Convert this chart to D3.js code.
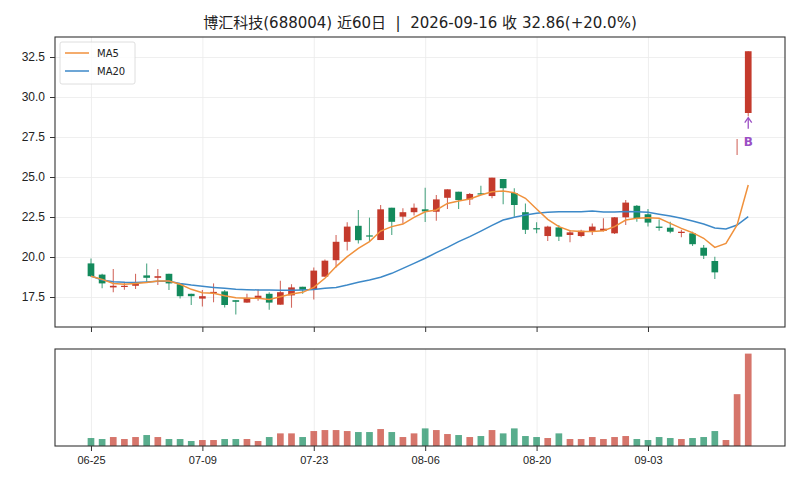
<!DOCTYPE html>
<html>
<head>
<meta charset="utf-8">
<script src="https://cdn.jsdelivr.net/npm/d3@7/dist/d3.min.js"></script>
<style>
  body { margin: 0; background: #fff; }
  svg { font-family: "DejaVu Sans", "Noto Sans CJK SC", sans-serif; }
  .grid line { stroke: #ebebeb; stroke-width: 0.8; }
  .grid path { display: none; }
  .axis path { display: none; }
  .axis line { stroke: #333; }
  .axis text { fill: #222; }
</style>
</head>
<body>
<svg id="chart" width="800" height="484"></svg>
<script>
// Trading days shown on the x axis
var dates = ["06-25","06-26","06-29","06-30","07-01","07-02","07-03","07-06","07-07","07-08",
             "07-09","07-10","07-13","07-14","07-15","07-16","07-17","07-20","07-21","07-22",
             "07-23","07-24","07-27","07-28","07-29","07-30","07-31","08-03","08-04","08-05",
             "08-06","08-07","08-10","08-11","08-12","08-13","08-14","08-17","08-18","08-19",
             "08-20","08-21","08-24","08-25","08-26","08-27","08-28","08-31","09-01","09-02",
             "09-03","09-04","09-07","09-08","09-09","09-10","09-11","09-14","09-15","09-16"];

// Daily prices
var openPrices = [19.6,18.9,18.1,18.15,18.2,18.85,18.7,18.95,18.3,17.7,
                  17.4,17.78,17.85,17.3,17.15,17.38,17.7,17.02,17.6,18.14,
                  18.0,18.77,19.8,20.95,21.95,21.35,21.06,23.08,22.52,22.8,
                  22.98,22.83,23.7,24.08,23.6,23.98,23.81,24.875,24.0,22.8,
                  21.8,21.31,21.85,21.375,21.31,21.625,21.63,21.48,22.48,23.2,
                  22.67,21.9,21.83,21.5,21.48,20.58,19.75,22.85,27.38,29.0];
var highPrices = [19.9,18.95,19.25,18.45,18.95,19.6,19.25,18.96,18.31,17.7,
                  17.94,18.35,17.94,17.3,17.7,17.98,17.8,18.52,18.3,18.14,
                  19.35,19.85,21.375,22.17,22.94,22.46,23.25,23.08,23.04,23.35,
                  24.33,23.875,24.23,24.08,24.0,24.46,24.96,24.875,24.29,23.35,
                  22.17,21.95,22.0,21.69,21.7,22.1,22.42,22.5,23.56,23.25,
                  23.0,22.35,22.2,21.7,21.58,20.75,20.02,22.85,27.38,32.86];
var lowPrices = [18.75,18.05,17.8,17.95,18.0,18.46,18.25,17.94,17.4,17.0,
                 16.9,17.17,16.85,16.4,17.14,17.27,16.7,17.02,16.83,17.7,
                 17.35,18.77,19.35,20.4,20.85,20.96,21.06,21.375,22.1,22.6,
                 22.19,22.27,23.0,23.0,23.25,23.9,23.67,23.29,22.52,21.44,
                 21.48,21.0,21.0,20.92,21.23,21.375,21.6,21.44,22.0,22.2,
                 21.9,21.64,21.48,21.23,20.69,19.875,18.625,22.85,26.38,28.8];
var closePrices = [18.8,18.35,18.2,18.2,18.35,18.7,18.8,18.35,17.55,17.55,
                   17.55,17.82,17.0,17.2,17.45,17.58,17.15,17.8,18.1,17.95,
                   19.15,19.77,20.95,21.9,21.05,21.3,22.98,22.2,22.8,23.08,
                   22.85,23.6,24.23,23.56,23.94,23.92,24.96,24.3,23.25,21.7,
                   21.73,21.9,21.27,21.54,21.64,21.9,21.77,22.48,23.4,22.42,
                   22.15,21.82,21.58,21.58,20.8,20.08,19.04,22.85,27.38,32.86];

// Moving averages as drawn
var ma5 = [18.8,18.6,18.35,18.3,18.35,18.4,18.5,18.5,18.3,17.98,
           17.77,17.73,17.58,17.46,17.42,17.42,17.35,17.52,17.69,17.79,
           18.1,18.67,19.4,20.02,20.54,20.96,21.62,21.9,22.06,22.48,
           22.83,22.94,23.35,23.5,23.62,23.87,24.08,24.12,24.02,23.67,
           23.0,22.35,21.9,21.64,21.6,21.6,21.64,21.9,22.31,22.42,
           22.46,22.42,22.1,21.79,21.52,21.17,20.6,20.85,22.0,24.5];
var ma20 = [18.81,18.56,18.46,18.42,18.4,18.44,18.48,18.48,18.35,18.25,
            18.17,18.1,18.04,17.98,17.96,17.94,17.94,17.92,17.92,17.94,
            17.97,18.04,18.1,18.25,18.42,18.56,18.73,18.98,19.29,19.6,
            19.92,20.27,20.6,20.96,21.27,21.62,21.98,22.31,22.48,22.62,
            22.73,22.79,22.83,22.83,22.83,22.87,22.81,22.81,22.85,22.83,
            22.79,22.67,22.56,22.42,22.25,22.06,21.81,21.75,22.0,22.52];

// Daily volume
var volumes = [96,84,108,84,108,132,108,84,84,60,
               72,72,84,84,84,60,108,152,152,108,
               180,192,192,180,168,168,204,168,108,152,
               212,192,144,132,108,120,192,152,212,120,
               108,96,152,84,84,108,84,108,120,84,
               72,108,96,84,96,108,180,72,624,1112];

var priceTicks = [17.5, 20.0, 22.5, 25.0, 27.5, 30.0, 32.5];
var dateTickIndex = [0, 10, 20, 30, 40, 50];
var signalIndex = 59;
var signalLabel = "B";

var titleText = "博汇科技(688004) 近60日  |  2026-09-16 收 32.86(+20.0%)";

// Layout
var left = 55, right = 785;
var mainTop = 37, mainBottom = 327;
var volTop = 349, volBottom = 446;

var upColor = "#c43a2c", downColor = "#138a5c";
var ma5Color = "#f0913c", ma20Color = "#3d89c8";

var svg = d3.select("#chart");

var data = dates.map(function(d, i) {
    return { i: i, date: d, open: openPrices[i], high: highPrices[i], low: lowPrices[i],
             close: closePrices[i], vol: volumes[i] };
});

// Scales
var xScale = d3.scaleLinear().domain([-3.23, 62.3]).range([left, right]);
var yScale = d3.scaleLinear().domain([15.625, 33.75]).range([mainBottom, mainTop]);
var vScale = d3.scaleLinear().domain([0, d3.max(volumes) * 1.05]).range([volBottom, volTop]);

var step = xScale(1) - xScale(0);
var bodyW = step * 0.6;

// Title
svg.append("text")
    .attr("x", (left + right) / 2)
    .attr("y", 28)
    .attr("text-anchor", "middle")
    .style("font-size", "15px")
    .style("white-space", "pre")
    .style("fill", "#222")
    .text(titleText);

// Grid lines for price panel
svg.append("g").attr("class", "grid")
    .attr("transform", "translate(" + left + ",0)")
    .call(d3.axisLeft(yScale).tickValues(priceTicks).tickSize(-(right - left)).tickFormat(""));
svg.append("g").attr("class", "grid")
    .attr("transform", "translate(0," + mainBottom + ")")
    .call(d3.axisBottom(xScale).tickValues(dateTickIndex).tickSize(-(mainBottom - mainTop)).tickFormat(""));

// Grid lines for volume panel
svg.append("g").attr("class", "grid")
    .attr("transform", "translate(0," + volBottom + ")")
    .call(d3.axisBottom(xScale).tickValues(dateTickIndex).tickSize(-(volBottom - volTop)).tickFormat(""));

// Candles
var candles = svg.append("g");
candles.selectAll("line.wick").data(data).enter().append("line")
    .attr("class", "wick")
    .attr("x1", function(d) { return xScale(d.i); })
    .attr("x2", function(d) { return xScale(d.i); })
    .attr("y1", function(d) { return yScale(d.high); })
    .attr("y2", function(d) { return yScale(d.low); })
    .attr("stroke", function(d) { return d.close >= d.open ? upColor : downColor; })
    .attr("stroke-width", 1.1)
    .attr("stroke-opacity", 0.75);

candles.selectAll("rect.body").data(data).enter().append("rect")
    .attr("class", "body")
    .attr("x", function(d) { return xScale(d.i) - bodyW / 2; })
    .attr("width", bodyW)
    .attr("y", function(d) { return yScale(Math.max(d.open, d.close)); })
    .attr("height", function(d) {
        var h = Math.abs(yScale(d.open) - yScale(d.close));
        return d.open == d.close ? 0 : Math.max(h, 1.2);
    })
    .attr("fill", function(d) { return d.close >= d.open ? upColor : downColor; });

// Moving average lines
var line = function(values) {
    return d3.line()
        .x(function(d, i) { return xScale(i); })
        .y(function(d) { return yScale(d); })(values);
};
svg.append("path").attr("d", line(ma20))
    .attr("fill", "none").attr("stroke", ma20Color).attr("stroke-width", 1.5);
svg.append("path").attr("d", line(ma5))
    .attr("fill", "none").attr("stroke", ma5Color).attr("stroke-width", 1.5);

// Buy signal marker under the last candle
var sig = data[signalIndex];
var sx = xScale(sig.i);
var tipY = yScale(sig.low) + 1.5;
svg.append("line")
    .attr("x1", sx).attr("x2", sx)
    .attr("y1", tipY + 11).attr("y2", tipY + 1)
    .attr("stroke", "#9b4fc4").attr("stroke-width", 1.3);
svg.append("path")
    .attr("d", "M" + (sx - 3.5) + "," + (tipY + 5) + " L" + sx + "," + tipY + " L" + (sx + 3.5) + "," + (tipY + 5))
    .attr("fill", "none").attr("stroke", "#9b4fc4").attr("stroke-width", 1.3);
svg.append("text")
    .attr("x", sx)
    .attr("y", tipY + 28)
    .attr("text-anchor", "middle")
    .style("font-size", "12px")
    .style("font-weight", "bold")
    .style("fill", "#9b4fc4")
    .text(signalLabel);

// Volume bars
svg.append("g").selectAll("rect").data(data).enter().append("rect")
    .attr("x", function(d) { return xScale(d.i) - bodyW / 2; })
    .attr("width", bodyW)
    .attr("y", function(d) { return vScale(d.vol); })
    .attr("height", function(d) { return volBottom - vScale(d.vol); })
    .attr("fill", function(d) { return d.close >= d.open ? upColor : downColor; })
    .attr("fill-opacity", 0.7);

// Axes
var yAxis = svg.append("g").attr("class", "axis")
    .attr("transform", "translate(" + left + ",0)")
    .call(d3.axisLeft(yScale).tickValues(priceTicks).tickSize(5).tickPadding(5)
        .tickFormat(d3.format(".1f")));
yAxis.selectAll("text").style("font-size", "12px");

svg.append("g").attr("class", "axis")
    .attr("transform", "translate(0," + mainBottom + ")")
    .call(d3.axisBottom(xScale).tickValues(dateTickIndex).tickSize(5).tickFormat(""));

var xAxis = svg.append("g").attr("class", "axis")
    .attr("transform", "translate(0," + volBottom + ")")
    .call(d3.axisBottom(xScale).tickValues(dateTickIndex).tickSize(5).tickPadding(5)
        .tickFormat(function(i) { return dates[i]; }));
xAxis.selectAll("text").style("font-size", "11px");

// Panel frames
[[mainTop, mainBottom], [volTop, volBottom]].forEach(function(p) {
    svg.append("rect")
        .attr("x", left).attr("y", p[0])
        .attr("width", right - left).attr("height", p[1] - p[0])
        .attr("fill", "none").attr("stroke", "#333").attr("stroke-width", 1.1);
});

// Legend
var legend = svg.append("g").attr("transform", "translate(60,42)");
legend.append("rect")
    .attr("width", 75).attr("height", 42).attr("rx", 2)
    .attr("fill", "#fff").attr("fill-opacity", 0.8)
    .attr("stroke", "#d6d6d6").attr("stroke-width", 0.8);
[["MA5", ma5Color], ["MA20", ma20Color]].forEach(function(item, k) {
    var ly = 11 + k * 18;
    legend.append("line")
        .attr("x1", 5).attr("x2", 29).attr("y1", ly).attr("y2", ly)
        .attr("stroke", item[1]).attr("stroke-width", 1.5);
    legend.append("text")
        .attr("x", 37).attr("y", ly + 4)
        .style("font-size", "10px").style("fill", "#222")
        .text(item[0]);
});
</script>
</body>
</html>
